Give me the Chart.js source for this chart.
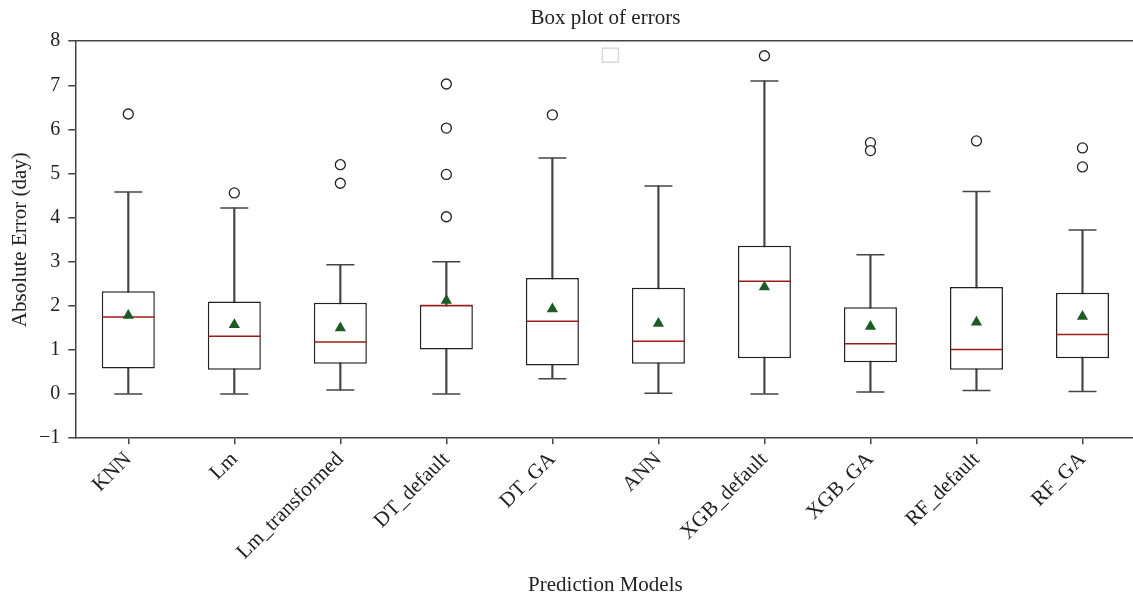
<!DOCTYPE html>
<html>
<head>
<meta charset="utf-8">
<script src="https://cdn.jsdelivr.net/npm/chart.js@4/dist/chart.umd.min.js"></script>
<style>
  body { margin: 0; background: #fff; overflow: hidden; }
  #page { width: 1133px; height: 599px; overflow: hidden; }
  /* canvas a bit wider than the page so the plot runs off the right edge like the original */
  #wrap { width: 1163px; height: 599px; }
</style>
</head>
<body>
<div id="page"><div id="wrap"><canvas id="box-chart"></canvas></div></div>
<script>
// Box plot of errors

// Categories
const models = ['KNN', 'Lm', 'Lm_transformed', 'DT_default', 'DT_GA', 'ANN', 'XGB_default', 'XGB_GA', 'RF_default', 'RF_GA'];

// Box statistics per model (days)
const whiskerLow  = [0.00, 0.00, 0.09, 0.00, 0.35, 0.02, 0.00, 0.05, 0.08, 0.06];
const q1          = [0.58, 0.55, 0.69, 1.01, 0.65, 0.69, 0.81, 0.72, 0.55, 0.81];
const medians     = [1.75, 1.31, 1.18, 2.01, 1.65, 1.20, 2.56, 1.14, 1.01, 1.35];
const q3          = [2.33, 2.10, 2.07, 2.02, 2.63, 2.41, 3.36, 1.97, 2.43, 2.30];
const whiskerHigh = [4.58, 4.22, 2.93, 3.00, 5.35, 4.72, 7.10, 3.16, 4.59, 3.72];
const means       = [1.78, 1.57, 1.50, 2.12, 1.93, 1.60, 2.43, 1.53, 1.63, 1.76];

// Outliers: [model, value]
const outliers = [
  ['KNN', 6.35],
  ['Lm', 4.56],
  ['Lm_transformed', 5.20], ['Lm_transformed', 4.78],
  ['DT_default', 7.03], ['DT_default', 6.03], ['DT_default', 4.98], ['DT_default', 4.02],
  ['DT_GA', 6.33],
  ['XGB_default', 7.67],
  ['XGB_GA', 5.70], ['XGB_GA', 5.52],
  ['RF_default', 5.74],
  ['RF_GA', 5.58], ['RF_GA', 5.15],
];

// Y axis range
const yMin = -1;
const yMax = 8;

const fontFamily = "'Liberation Serif', 'Times New Roman', serif";
const ink = '#222';

const data = {
  labels: models,
  datasets: [
    {
      type: 'bar',
      label: 'whisker',
      data: whiskerLow.map((v, i) => [v, whiskerHigh[i]]),
      backgroundColor: '#444',
      barThickness: 1.5,
      grouped: false,
      order: 6,
    },
    {
      type: 'bar',
      label: 'box',
      data: q1.map((v, i) => [v, q3[i]]),
      backgroundColor: '#fff',
      borderColor: ink,
      borderWidth: 1.5,
      borderSkipped: false,
      barPercentage: 0.5,
      categoryPercentage: 1,
      grouped: false,
      order: 5,
    },
    {
      type: 'line',
      label: 'cap low',
      data: whiskerLow,
      showLine: false,
      pointStyle: 'line',
      pointRadius: 14,
      pointBorderColor: '#444',
      pointBorderWidth: 1.5,
      order: 4,
    },
    {
      type: 'line',
      label: 'cap high',
      data: whiskerHigh,
      showLine: false,
      pointStyle: 'line',
      pointRadius: 14,
      pointBorderColor: '#444',
      pointBorderWidth: 1.5,
      order: 4,
    },
    {
      type: 'line',
      label: 'median',
      data: medians,
      showLine: false,
      pointStyle: 'line',
      pointRadius: 26,
      pointBorderColor: '#9e1b1b',
      pointBorderWidth: 1.5,
      order: 3,
    },
    {
      type: 'line',
      label: 'outliers',
      data: outliers.map(o => ({ x: o[0], y: o[1] })),
      showLine: false,
      pointStyle: 'circle',
      pointRadius: 5,
      pointBackgroundColor: '#fff',
      pointBorderColor: ink,
      pointBorderWidth: 1.3,
      order: 2,
    },
    {
      type: 'line',
      label: 'mean',
      data: means,
      showLine: false,
      pointStyle: 'triangle',
      pointRadius: 6.5,
      pointBackgroundColor: '#1c5a26',
      pointBorderColor: '#1c5a26',
      pointBorderWidth: 0,
      order: 1,
    },
  ]
};

// Empty legend box drawn near the top of the plot
const emptyLegend = {
  id: 'emptyLegend',
  afterDatasetsDraw(chart) {
    const area = chart.chartArea;
    const c = chart.ctx;
    const cx = (area.left + area.right) / 2 + 5;
    c.save();
    c.strokeStyle = '#d8d8d8';
    c.lineWidth = 1.5;
    c.strokeRect(cx - 8, area.top + 7, 16, 14);
    c.restore();
  }
};

const ctx = document.getElementById('box-chart').getContext('2d');

const boxChart = new Chart(ctx, {
  type: 'bar',
  data: data,
  plugins: [emptyLegend],
  options: {
    responsive: true,
    maintainAspectRatio: false,
    animation: false,
    layout: {
      padding: { left: 10, right: 0, top: 0, bottom: 1 }
    },
    scales: {
      x: {
        offset: true,
        grid: {
          display: true,
          offset: false,
          drawOnChartArea: false,
          drawTicks: true,
          tickLength: 6,
          color: '#444',
          lineWidth: 1.5,
        },
        border: { display: true, color: '#444', width: 1.5 },
        ticks: {
          minRotation: 45,
          maxRotation: 45,
          color: ink,
          padding: 3,
          font: { size: 21, family: fontFamily },
        },
        title: {
          display: true,
          text: 'Prediction Models',
          color: ink,
          padding: { top: 5, bottom: 0 },
          font: { size: 21, family: fontFamily },
        }
      },
      xTop: {
        type: 'category',
        position: 'top',
        labels: models,
        offset: true,
        grid: { display: false, drawTicks: false },
        border: { display: true, color: '#444', width: 1.5 },
        ticks: { display: false },
      },
      y: {
        min: yMin,
        max: yMax,
        grid: {
          display: true,
          drawOnChartArea: false,
          drawTicks: true,
          tickLength: 7,
          color: '#444',
          lineWidth: 1.5,
        },
        border: { display: true, color: '#444', width: 1.5 },
        ticks: {
          stepSize: 1,
          color: ink,
          padding: 8,
          font: { size: 20, family: fontFamily },
          callback: function(value) {
            return value < 0 ? '\u2212' + Math.abs(value) : value;
          }
        },
        title: {
          display: true,
          text: 'Absolute Error (day)',
          color: ink,
          padding: { top: 0, bottom: 0 },
          font: { size: 21, family: fontFamily, lineHeight: 1 },
        }
      }
    },
    plugins: {
      tooltip: { enabled: false },
      legend: { display: false },
      title: {
        display: true,
        fullSize: false,
        text: 'Box plot of errors',
        color: ink,
        padding: { top: 6, bottom: 10 },
        font: { size: 21, weight: 'normal', family: fontFamily },
      }
    }
  },
});
</script>
</body>
</html>
